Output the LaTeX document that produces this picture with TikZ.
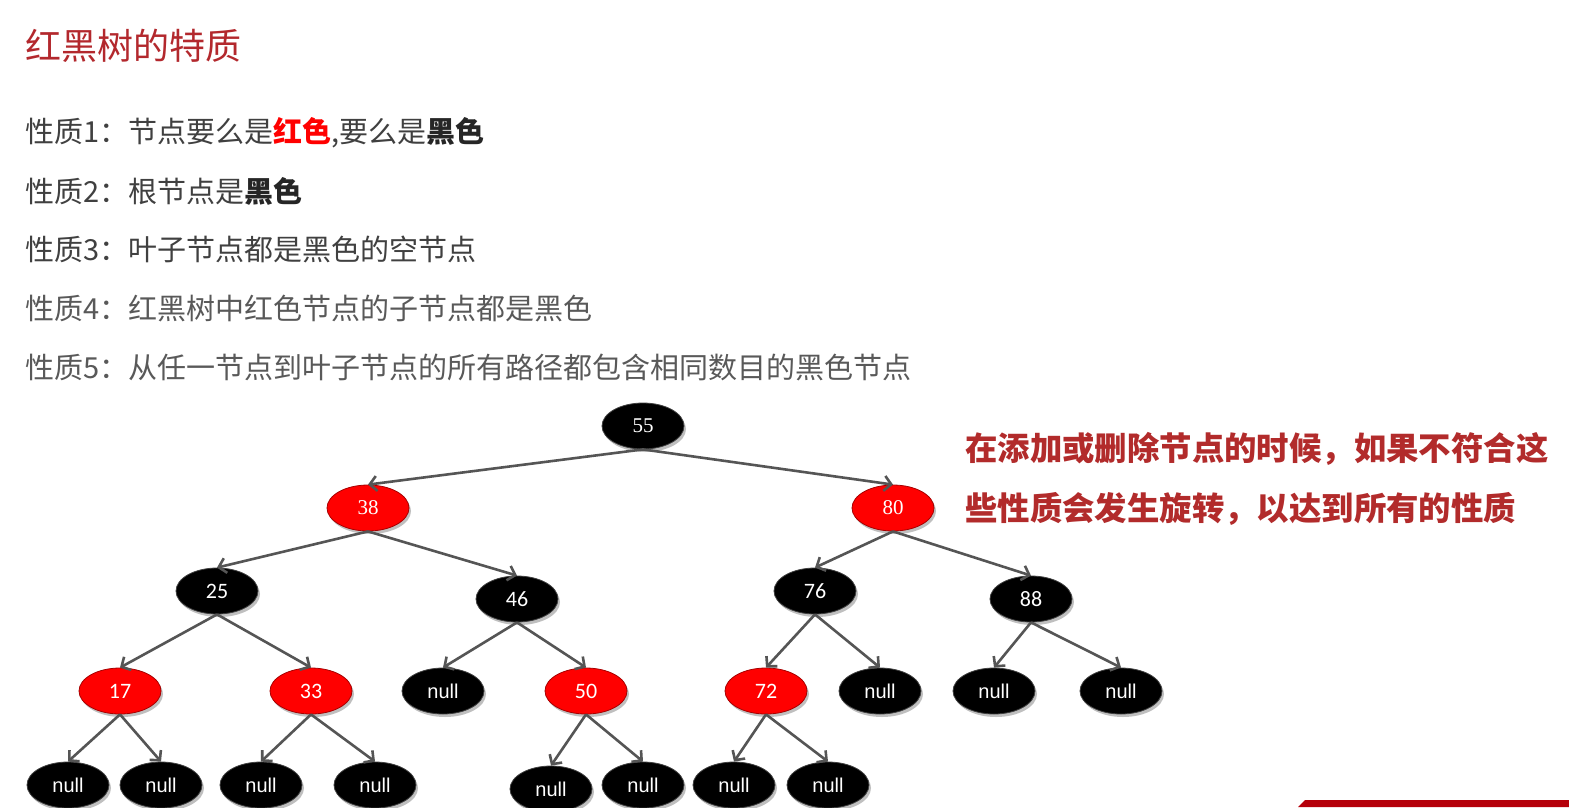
\documentclass[tikz,border=0pt]{standalone}
\usepackage{fontspec}
\setmainfont{Noto Sans CJK SC}
\newfontfamily\numserif{Liberation Serif}
\newfontfamily\numsans{Carlito}
\newfontfamily\arialf{Liberation Sans}
\usetikzlibrary{shapes.geometric,arrows.meta,shadows}
\definecolor{titlered}{HTML}{B3282D}
\definecolor{notered}{HTML}{B22B2B}
\definecolor{txtdark}{HTML}{404040}
\definecolor{txtlight}{HTML}{595959}
\definecolor{edgegray}{HTML}{555555}
\definecolor{barred}{HTML}{B5000A}
\tikzset{
  tnode/.style={ellipse, minimum width=82pt, minimum height=46pt, inner sep=0pt,
    text=white, font=\numsans\fontsize{22}{22}\selectfont,
    drop shadow={shadow xshift=2pt, shadow yshift=-3pt, opacity=0.25, fill=black}},
  bnode/.style={tnode, fill=black, draw=black!75, line width=0.8pt},
  rnode/.style={tnode, fill=red, draw=red!65!black, line width=0.8pt},
  nnode/.style={bnode, font=\arialf\fontsize{20}{20}\selectfont},
  snum/.style={font=\numserif\fontsize{21}{21}\selectfont},
  edge/.style={draw=edgegray, line width=2.6pt, -{Straight Barb[length=7pt,width=15pt]}},
  prop/.style={anchor=west, inner sep=0pt, font=\fontsize{29}{31}\selectfont},
  note/.style={anchor=west, inner sep=0pt, text=notered, font=\bfseries\fontsize{32.4}{34}\selectfont}
}
\begin{document}
\begin{tikzpicture}[x=1pt,y=-1pt]
\useasboundingbox (0,0) rectangle (1569,807);
\clip (0,0) rectangle (1569,807);
\fill[white] (0,0) rectangle (1569,807);
% title
\node[anchor=west, inner sep=0pt, text=titlered, font=\fontsize{36}{38}\selectfont] (title) at (25,46) {红黑树的特质};
% properties
\node[prop, text=txtdark] (p1) at (25,133) {性质1：节点要么是\textcolor{red}{\bfseries 红色},要么是\textcolor{black!85}{\bfseries 黑色}};
\node[prop, text=txtdark] (p2) at (25,191) {性质2：根节点是\textcolor{black!85}{\bfseries 黑色}};
\node[prop, text=txtdark] (p3) at (25,249) {性质3：叶子节点都是黑色的空节点};
\node[prop, text=txtlight] (p4) at (25,308) {性质4：红黑树中红色节点的子节点都是黑色};
\node[prop, text=txtlight] (p5) at (25,367) {性质5：从任一节点到叶子节点的所有路径都包含相同数目的黑色节点};
% note
\node[note] (n1) at (965,449) {在添加或删除节点的时候，如果不符合这};
\node[note] (n2) at (965,509) {些性质会发生旋转，以达到所有的性质};
% tree
\node[bnode, snum] (k55) at (643,426) {55};
\node[rnode, snum] (k38) at (368,508) {38};
\node[rnode, snum] (k80) at (893,508) {80};
\node[bnode] (k25) at (217,591) {25};
\node[bnode] (k46) at (517,599) {46};
\node[bnode] (k76) at (815,591) {76};
\node[bnode] (k88) at (1031,599) {88};
\node[rnode] (k17) at (120,691) {17};
\node[rnode] (k33) at (311,691) {33};
\node[nnode] (n46a) at (443,691) {null};
\node[rnode] (k50) at (586,691) {50};
\node[rnode] (k72) at (766,691) {72};
\node[nnode] (n76b) at (880,691) {null};
\node[nnode] (n88a) at (994,691) {null};
\node[nnode] (n88b) at (1121,691) {null};
\node[nnode] (n17a) at (68,785) {null};
\node[nnode] (n17b) at (161,785) {null};
\node[nnode] (n33a) at (261,785) {null};
\node[nnode] (n33b) at (375,785) {null};
\node[nnode] (n50a) at (551,789) {null};
\node[nnode] (n50b) at (643,785) {null};
\node[nnode] (n72a) at (734,785) {null};
\node[nnode] (n72b) at (828,785) {null};
% edges
\foreach \p/\c in {k55/k38,k55/k80,k38/k25,k38/k46,k80/k76,k80/k88,
  k25/k17,k25/k33,k46/n46a,k46/k50,k76/k72,k76/n76b,k88/n88a,k88/n88b,
  k17/n17a,k17/n17b,k33/n33a,k33/n33b,k50/n50a,k50/n50b,k72/n72a,k72/n72b}
  \draw[edge] (\p.south) -- (\c.north);
% bottom-right bar
\fill[barred] (1298,807) -- (1305,800) -- (1569,800) -- (1569,807) -- cycle;
\end{tikzpicture}
\end{document}
